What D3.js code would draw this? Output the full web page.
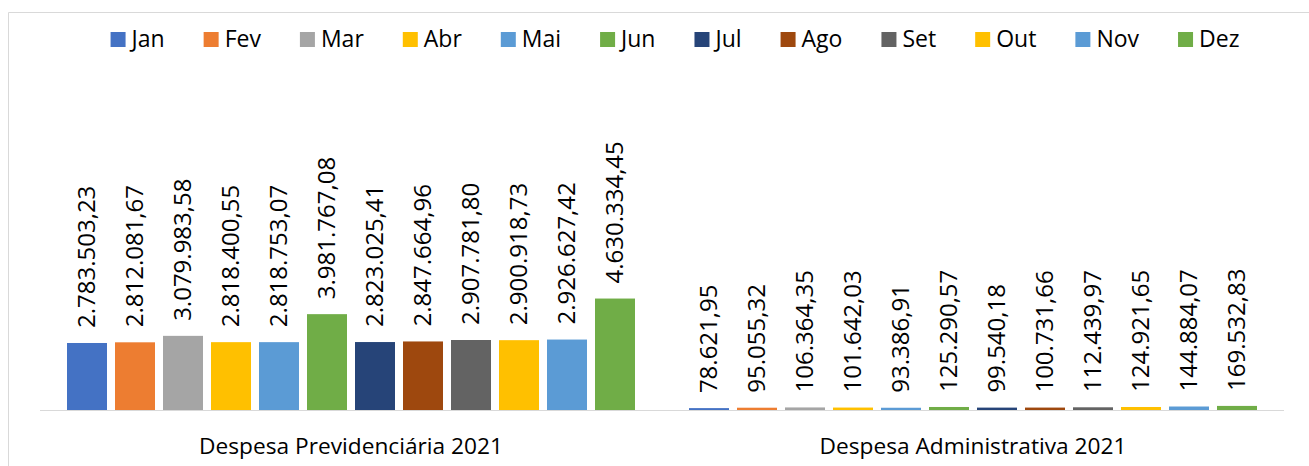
<!DOCTYPE html>
<html lang="pt-BR">
<head>
<meta charset="utf-8">
<script src="https://cdn.jsdelivr.net/npm/d3@7"></script>
<style>
  html, body { margin: 0; padding: 0; background: #ffffff; }
  svg { display: block; font-family: "Open Sans", "Noto Sans", sans-serif; }
</style>
</head>
<body>
<svg id="chart" width="1309" height="466"></svg>
<script>
// Despesas mensais de 2021, por tipo
const categories = ["Despesa Previdenciária 2021", "Despesa Administrativa 2021"];
const months = ["Jan", "Fev", "Mar", "Abr", "Mai", "Jun", "Jul", "Ago", "Set", "Out", "Nov", "Dez"];
const previdenciaria = [2783503.23, 2812081.67, 3079983.58, 2818400.55, 2818753.07, 3981767.08,
                        2823025.41, 2847664.96, 2907781.80, 2900918.73, 2926627.42, 4630334.45];
const administrativa = [78621.95, 95055.32, 106364.35, 101642.03, 93386.91, 125290.57,
                        99540.18, 100731.66, 112439.97, 124921.65, 144884.07, 169532.83];
const monthColors = ["#4472C4", "#ED7D31", "#A5A5A5", "#FFC000", "#5B9BD5", "#70AD47",
                     "#264478", "#9E480E", "#636363", "#FFC000", "#5B9BD5", "#70AD47"];
const yMax = 14000000;

const seriesByCategory = [previdenciaria, administrativa];

const svg = d3.select("#chart");
const W = 1309, H = 466;
const plot = { left: 40, right: 1284, top: 73, bottom: 410 };

// Número no formato brasileiro: 2.783.503,23
const br = d3.formatLocale({ decimal: ",", thousands: ".", grouping: [3], currency: ["R$", ""] });
const fmt = br.format(",.2f");

// Moldura do gráfico
svg.append("path")
  .attr("d", `M8.5,${H} V12.5 H${W}`)
  .attr("fill", "none")
  .attr("stroke", "#d9d9d9")
  .attr("stroke-width", 1);

const x0 = d3.scaleBand().domain(categories).range([plot.left, plot.right]).paddingInner(0).paddingOuter(0);
const x1 = d3.scaleBand().domain(months).range([0, x0.bandwidth()]).paddingInner(1 / 6).paddingOuter(0.5625);
const y = d3.scaleLinear().domain([0, yMax]).range([plot.bottom, plot.top]);

const groups = svg.append("g").selectAll("g")
  .data(categories)
  .join("g")
  .attr("transform", d => `translate(${x0(d)},0)`);

const cells = groups.selectAll("g.cell")
  .data((c, i) => months.map((m, j) => ({ month: m, value: seriesByCategory[i][j], color: monthColors[j] })))
  .join("g")
  .attr("class", "cell");

cells.append("rect")
  .attr("x", d => x1(d.month))
  .attr("width", x1.bandwidth())
  .attr("y", d => y(d.value))
  .attr("height", d => y(0) - y(d.value))
  .attr("fill", d => d.color);

// Rótulos de valor, na vertical, acima de cada barra
cells.append("text")
  .attr("transform", d => `translate(${x1(d.month) + x1.bandwidth() / 2},${y(d.value) - 15}) rotate(-90)`)
  .attr("dy", "0.33em")
  .attr("text-anchor", "start")
  .attr("font-size", 24)
  .attr("fill", "#000")
  .text(d => fmt(d.value));

// Eixo horizontal (linha base e nomes das categorias)
const xAxis = svg.append("g")
  .attr("transform", `translate(0,${plot.bottom})`)
  .call(d3.axisBottom(x0).tickSize(0).tickPadding(0));
xAxis.select(".domain").attr("stroke", "#d9d9d9").attr("d", `M${plot.left},0.5H${plot.right}`);
xAxis.selectAll(".tick text")
  .attr("font-family", "\"Open Sans\", \"Noto Sans\", sans-serif")
  .attr("font-size", 22.7)
  .attr("fill", "#000")
  .attr("dy", null)
  .attr("y", 44);

// Legenda no topo, centralizada
const legend = svg.append("g");
const items = legend.selectAll("g").data(months).join("g");
items.append("rect")
  .attr("width", 15).attr("height", 15)
  .attr("y", 32)
  .attr("fill", (d, i) => monthColors[i]);
items.append("text")
  .attr("x", 21).attr("y", 47)
  .attr("font-size", 23)
  .attr("fill", "#000")
  .text(d => d);
const itemGap = 39;
let cursor = 0;
items.each(function () {
  const g = d3.select(this);
  g.attr("transform", `translate(${cursor},0)`);
  cursor += 21 + g.select("text").node().getComputedTextLength() + itemGap;
});
const legendWidth = cursor - itemGap;
legend.attr("transform", `translate(${675 - legendWidth / 2},0)`);
</script>
</body>
</html>
